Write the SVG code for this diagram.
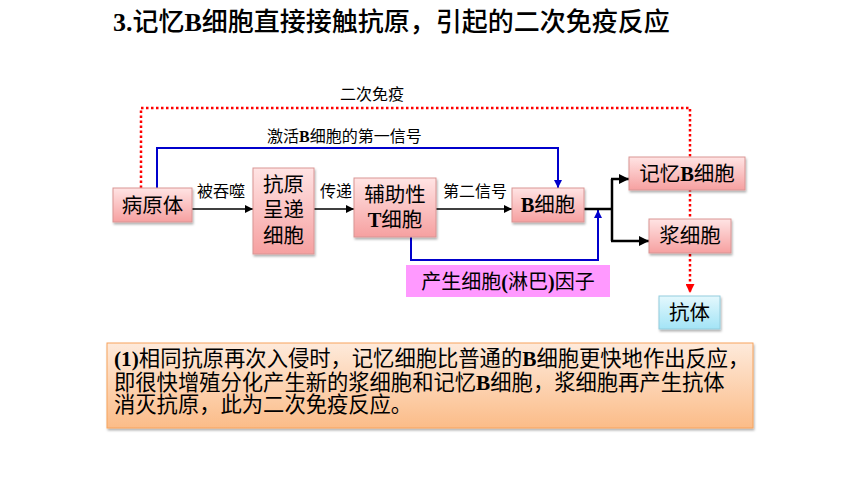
<svg xmlns="http://www.w3.org/2000/svg" width="860" height="484" viewBox="0 0 860 484">
<defs>
<linearGradient id="gPink" x1="0" y1="0" x2="0" y2="1">
<stop offset="0" stop-color="#FFE4E4"/>
<stop offset="1" stop-color="#F6A0A0"/>
</linearGradient>
<linearGradient id="gBlue" x1="0" y1="0" x2="0" y2="1">
<stop offset="0" stop-color="#E4F8FD"/>
<stop offset="1" stop-color="#A3E4F6"/>
</linearGradient>
<linearGradient id="gOrange" x1="0" y1="0" x2="0" y2="1">
<stop offset="0" stop-color="#FEEADB"/>
<stop offset="1" stop-color="#FBBC88"/>
</linearGradient>
<filter id="sh" x="-10%" y="-10%" width="130%" height="140%">
<feDropShadow dx="1" dy="2" stdDeviation="1.2" flood-color="#000" flood-opacity="0.3"/>
</filter>
<marker id="aBlack" viewBox="0 0 10 10" refX="10" refY="5" markerWidth="8" markerHeight="8" markerUnits="userSpaceOnUse" orient="auto">
<path d="M0,0 L10,5 L0,10 z" fill="#000"/>
</marker>
<marker id="aBlackB" viewBox="0 0 10 10" refX="10" refY="5" markerWidth="10" markerHeight="10" markerUnits="userSpaceOnUse" orient="auto">
<path d="M0,0 L10,5 L0,10 z" fill="#000"/>
</marker>
<marker id="aBlue" viewBox="0 0 10 10" refX="10" refY="5" markerWidth="8" markerHeight="8" markerUnits="userSpaceOnUse" orient="auto">
<path d="M0,0 L10,5 L0,10 z" fill="#0000CC"/>
</marker>
<marker id="aRed" viewBox="0 0 10 10" refX="10" refY="5" markerWidth="9" markerHeight="9" markerUnits="userSpaceOnUse" orient="auto">
<path d="M0,0 L10,5 L0,10 z" fill="#FF0000"/>
</marker>
</defs>
<style>
text { font-family: "Noto Sans CJK SC", "Liberation Serif", sans-serif; fill: #000; }
.lat { font-family: "Liberation Serif", "Noto Sans CJK SC", serif; font-weight: bold; }
.node { fill: url(#gPink); stroke: #D99594; stroke-width: 1; filter: url(#sh); }
.nt { font-size: 20.5px; text-anchor: middle; }
.lbl { font-size: 16px; }
.blk { fill: none; stroke: #000; stroke-width: 1.6; }
.blkB { fill: none; stroke: #000; stroke-width: 2.5; }
.blu { fill: none; stroke: #0000CC; stroke-width: 2; }
.red { fill: none; stroke: #FF0000; stroke-width: 2.5; stroke-dasharray: 2.5 2.5; }
</style>
<rect width="860" height="484" fill="#fff"/>

<text x="113" y="31" font-size="26" font-weight="500"><tspan class="lat">3.</tspan>记忆<tspan class="lat">B</tspan>细胞直接接触抗原，引起的二次免疫反应</text>

<g id="connectors">
<path class="red" d="M141,188 V108 H690 V293" marker-end="url(#aRed)"/>
<path class="blu" d="M157,188 V148 H558 V188" marker-end="url(#aBlue)"/>
<path class="blu" d="M411,237 V260 H598 V210" marker-end="url(#aBlue)"/>
<path class="blk" d="M192,209 H253" marker-end="url(#aBlack)"/>
<path class="blk" d="M314,209 H354" marker-end="url(#aBlack)"/>
<path class="blk" d="M436,209 H512" marker-end="url(#aBlack)"/>
<path class="blkB" d="M584,209 H612"/>
<path class="blkB" d="M612,179 V241"/>
<path class="blkB" d="M611,179 H629" marker-end="url(#aBlackB)"/>
<path class="blkB" d="M611,241 H649" marker-end="url(#aBlackB)"/>
<text class="lbl" x="340" y="100">二次免疫</text>
<text class="lbl" x="267" y="142">激活<tspan class="lat">B</tspan>细胞的第一信号</text>
<text class="lbl" x="197" y="197">被吞噬</text>
<text class="lbl" x="320" y="197">传递</text>
<text class="lbl" x="443" y="197">第二信号</text>
</g>

<g id="node-pathogen">
<rect class="node" x="113" y="188" width="79" height="34"/>
<text class="nt" x="152.5" y="213">病原体</text>
</g>

<g id="node-apc">
<rect class="node" x="253" y="168" width="61" height="86"/>
<text class="nt" x="283.5" y="192">抗原</text>
<text class="nt" x="283.5" y="217">呈递</text>
<text class="nt" x="283.5" y="243">细胞</text>
</g>

<g id="node-th">
<rect class="node" x="354" y="178" width="82" height="59"/>
<text class="nt" x="395" y="202">辅助性</text>
<text class="nt" x="395" y="227"><tspan class="lat">T</tspan>细胞</text>
</g>

<g id="node-bcell">
<rect class="node" x="512" y="188" width="72" height="34"/>
<text class="nt" x="548" y="212"><tspan class="lat">B</tspan>细胞</text>
</g>

<g id="node-memory">
<rect class="node" x="629" y="157" width="116" height="33"/>
<text class="nt" x="687" y="181">记忆<tspan class="lat">B</tspan>细胞</text>
</g>

<g id="node-plasma">
<rect class="node" x="649" y="219" width="82" height="34"/>
<text class="nt" x="690" y="243">浆细胞</text>
</g>

<g id="node-antibody">
<rect x="659" y="296" width="61" height="33" fill="url(#gBlue)" stroke="#93CDDD" stroke-width="1" filter="url(#sh)"/>
<text class="nt" x="689.5" y="320">抗体</text>
</g>

<g id="node-lymphokine">
<rect x="406" y="265" width="204" height="32" fill="#FF99FF"/>
<text x="508" y="289" font-size="20" text-anchor="middle">产生细胞<tspan class="lat" font-weight="normal">(</tspan>淋巴<tspan class="lat" font-weight="normal">)</tspan>因子</text>
</g>

<g id="note">
<rect x="107" y="343" width="646" height="85" fill="url(#gOrange)" stroke="#F7A35C" stroke-width="1" filter="url(#sh)"/>
<text font-size="21.3"><tspan x="114" y="366"><tspan class="lat">(1)</tspan>相同抗原再次入侵时，记忆细胞比普通的<tspan class="lat">B</tspan>细胞更快地作出反应，</tspan><tspan x="114" y="389.5">即很快增殖分化产生新的浆细胞和记忆<tspan class="lat">B</tspan>细胞，浆细胞再产生抗体</tspan><tspan x="114" y="412">消灭抗原，此为二次免疫反应。</tspan></text>
</g>
</svg>
